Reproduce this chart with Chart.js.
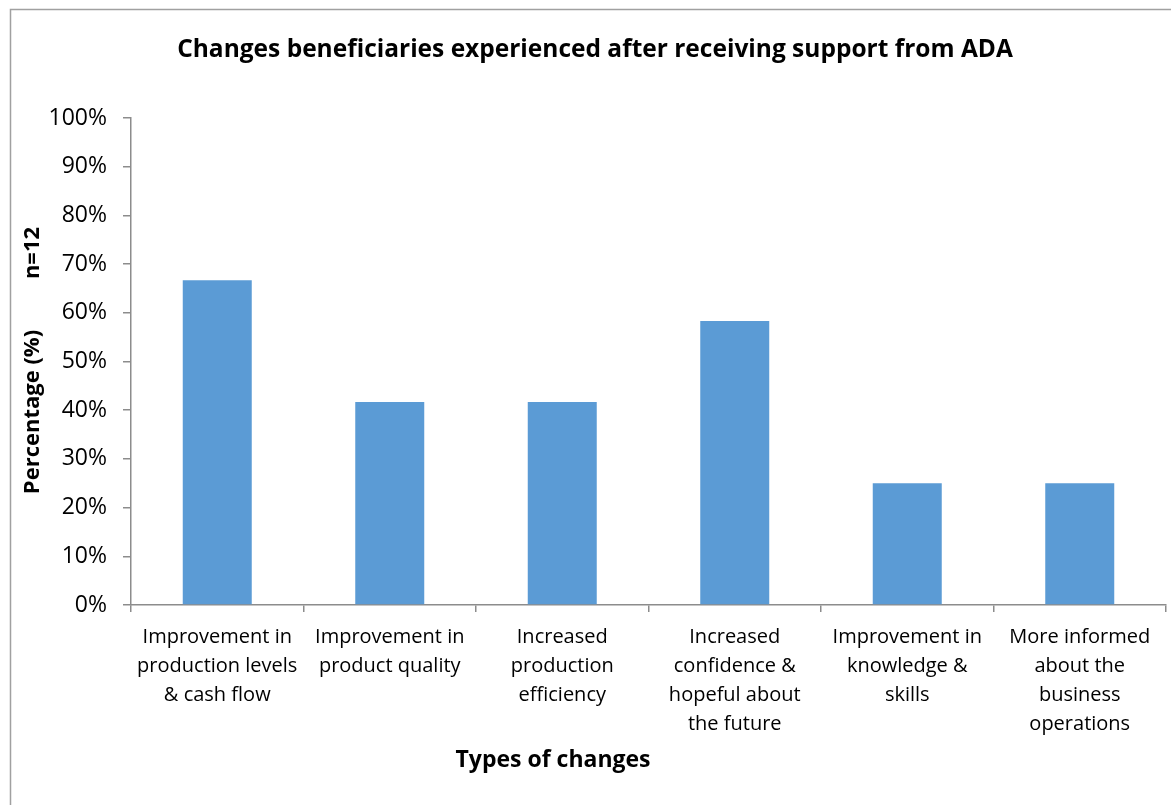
<!DOCTYPE html>
<html>
<head>
<meta charset="utf-8">
<script src="https://cdn.jsdelivr.net/npm/chart.js@4/dist/chart.umd.min.js"></script>
<style>
  body { margin: 0; background: #fff; }
  #chart { display: block; }
</style>
</head>
<body>
<canvas id="chart" width="1171" height="805"></canvas>
<script>
const categories = [
    ['Improvement in', 'production levels', '& cash flow'],
    ['Improvement in', 'product quality'],
    ['Increased', 'production', 'efficiency'],
    ['Increased', 'confidence &', 'hopeful about', 'the future'],
    ['Improvement in', 'knowledge &', 'skills'],
    ['More informed', 'about the', 'business', 'operations']
];
const percentages = [66.7, 41.7, 41.7, 58.3, 25, 25];
const yTicks = [0, 10, 20, 30, 40, 50, 60, 70, 80, 90, 100];

const titleText = 'Changes beneficiaries experienced after receiving support from ADA';
const xTitle = 'Types of changes';
const yTitle = 'Percentage (%)';
const sampleNote = 'n=12';

const FONT = '"Open Sans", sans-serif';
const axisColor = '#8c8c8c';

// title, axis titles and the outer frame
const extras = {
    id: 'extras',
    beforeDraw(c) {
        const ctx = c.ctx;
        ctx.save();
        ctx.fillStyle = '#fff';
        ctx.fillRect(0, 0, c.width, c.height);
        ctx.strokeStyle = '#a0a0a0';
        ctx.lineWidth = 1.5;
        ctx.strokeRect(10.5, 9.5, c.width + 20, c.height + 20);
        ctx.restore();
    },
    afterDraw(c) {
        const ctx = c.ctx;
        ctx.save();
        ctx.fillStyle = '#000';
        ctx.textAlign = 'center';
        ctx.textBaseline = 'middle';
        ctx.font = 'bold 24.5px ' + FONT;
        ctx.fillText(titleText, 595, 50);
        ctx.font = 'bold 23px ' + FONT;
        ctx.fillText(xTitle, 553, 760);

        ctx.font = 'bold 22px ' + FONT;
        ctx.translate(33, 0);
        ctx.rotate(-Math.PI / 2);
        ctx.fillText(yTitle, -412, 0);
        ctx.fillText(sampleNote, -253, 0);
        ctx.restore();
    }
};

new Chart(document.getElementById('chart'), {
    type: 'bar',
    data: {
        labels: categories,
        datasets: [{
            data: percentages,
            backgroundColor: '#5b9bd5',
            categoryPercentage: 0.4,
            barPercentage: 1
        }]
    },
    options: {
        responsive: false,
        animation: false,
        layout: { padding: { top: 118, right: 5, left: 0, bottom: 0 } },
        plugins: {
            legend: { display: false },
            tooltip: { enabled: false }
        },
        scales: {
            x: {
                grid: { drawOnChartArea: false, tickLength: 7, color: axisColor, lineWidth: 1.5 },
                border: { color: axisColor, width: 1.5 },
                ticks: {
                    color: '#000',
                    font: { family: FONT, size: 20, lineHeight: 1.45 },
                    padding: 11,
                    maxRotation: 0,
                    autoSkip: false
                },
                afterFit(s) { s.height = 200; }
            },
            y: {
                min: 0,
                max: 100,
                afterBuildTicks(s) { s.ticks = yTicks.map(v => ({ value: v })); },
                grid: { drawOnChartArea: false, tickLength: 8, color: axisColor, lineWidth: 1.5 },
                border: { color: axisColor, width: 1.5 },
                ticks: {
                    color: '#000',
                    font: { family: FONT, size: 23 },
                    padding: 16,
                    callback: v => v + '%'
                },
                afterFit(s) { s.width = 131; }
            }
        }
    },
    plugins: [extras]
});
</script>
</body>
</html>
